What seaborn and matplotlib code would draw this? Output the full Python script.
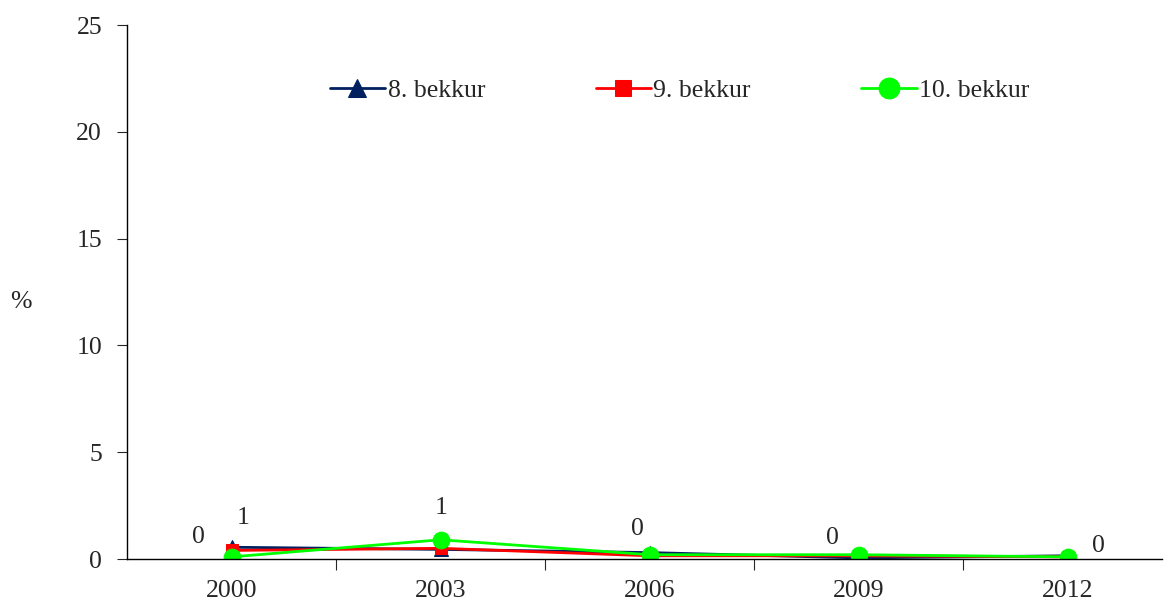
import matplotlib
matplotlib.use("Agg")
import matplotlib.pyplot as plt
import seaborn as sns
import pandas as pd
from matplotlib.ticker import FixedLocator

years = ["2000", "2003", "2006", "2009", "2012"]
series_names = ["8. bekkur", "9. bekkur", "10. bekkur"]
bekkur8 = [0.55, 0.45, 0.30, 0.05, 0.15]
bekkur9 = [0.40, 0.50, 0.15, 0.15, 0.10]
bekkur10 = [0.10, 0.90, 0.20, 0.20, 0.10]
y_ticks = [0, 5, 10, 15, 20, 25]

# value labels: (series, year index, x offset in points, y offset in points)
value_labels = [
    ("9. bekkur", 0, -24, 2),
    ("8. bekkur", 0, 8, 13),
    ("10. bekkur", 1, 0, 15),
    ("8. bekkur", 2, -9, 9),
    ("10. bekkur", 3, -19, 4),
    ("8. bekkur", 4, 22, -1),
]

colors = {"8. bekkur": "#002060", "9. bekkur": "#FF0000", "10. bekkur": "#00FF00"}
markers = {"8. bekkur": "^", "9. bekkur": "s", "10. bekkur": "o"}
msizes = {"8. bekkur": 10, "9. bekkur": 9, "10. bekkur": 12}

values = {"8. bekkur": bekkur8, "9. bekkur": bekkur9, "10. bekkur": bekkur10}
rows = []
for name in series_names:
    for i, v in enumerate(values[name]):
        rows.append({"pos": i, "year": years[i], "value": v, "series": name})
df = pd.DataFrame(rows)

sns.set_style("white")
plt.rcParams["font.family"] = ["Liberation Serif", "DejaVu Serif"]
FS = 18.5

fig = plt.figure(figsize=(11.68, 6.03), dpi=100)
ax = fig.add_axes([127 / 1168, 1 - 559 / 603, (1162 - 127) / 1168, (559 - 25) / 603])

for name in series_names:
    sub = df[df["series"] == name]
    sns.lineplot(data=sub, x="pos", y="value", ax=ax, color=colors[name],
                 marker=markers[name], markersize=msizes[name], linewidth=2,
                 markeredgecolor=colors[name], label=name, sort=False)

def fmt(v):
    return str(int(v + 0.5))

for name, i, dx, dy in value_labels:
    v = values[name][i]
    ax.annotate(fmt(v), (i, v), xytext=(dx, dy), textcoords="offset points",
                ha="center", va="bottom", fontsize=FS)

ax.set_xlim(-0.5, 4.45)
ax.set_ylim(0, 25)
ax.set_yticks(y_ticks)
ax.set_yticklabels([str(t) for t in y_ticks], fontsize=FS)
ax.set_xticks(range(len(years)))
ax.set_xticklabels(years, fontsize=FS)
ax.xaxis.set_minor_locator(FixedLocator([0.5, 1.5, 2.5, 3.5]))
ax.tick_params(axis="x", which="major", length=0, pad=15)
ax.tick_params(axis="x", which="minor", length=8, width=0.8, direction="out", bottom=True)
ax.tick_params(axis="y", length=7, width=0.8, direction="out", left=True, pad=11)
ax.set_xlabel("")
ax.set_ylabel("%", rotation=0, fontsize=FS)
ax.yaxis.set_label_coords(-0.103, 0.46)

for s in ["top", "right"]:
    ax.spines[s].set_visible(False)
for s in ["left", "bottom"]:
    ax.spines[s].set_color("black")
    ax.spines[s].set_linewidth(1)

ax.legend(loc="upper center", bbox_to_anchor=(0.534, 0.943), ncol=3, frameon=False,
          fontsize=FS, handlelength=2.15, handletextpad=0.1, columnspacing=4.3,
          markerscale=1.25)

fig.savefig("out.png", dpi=100)
